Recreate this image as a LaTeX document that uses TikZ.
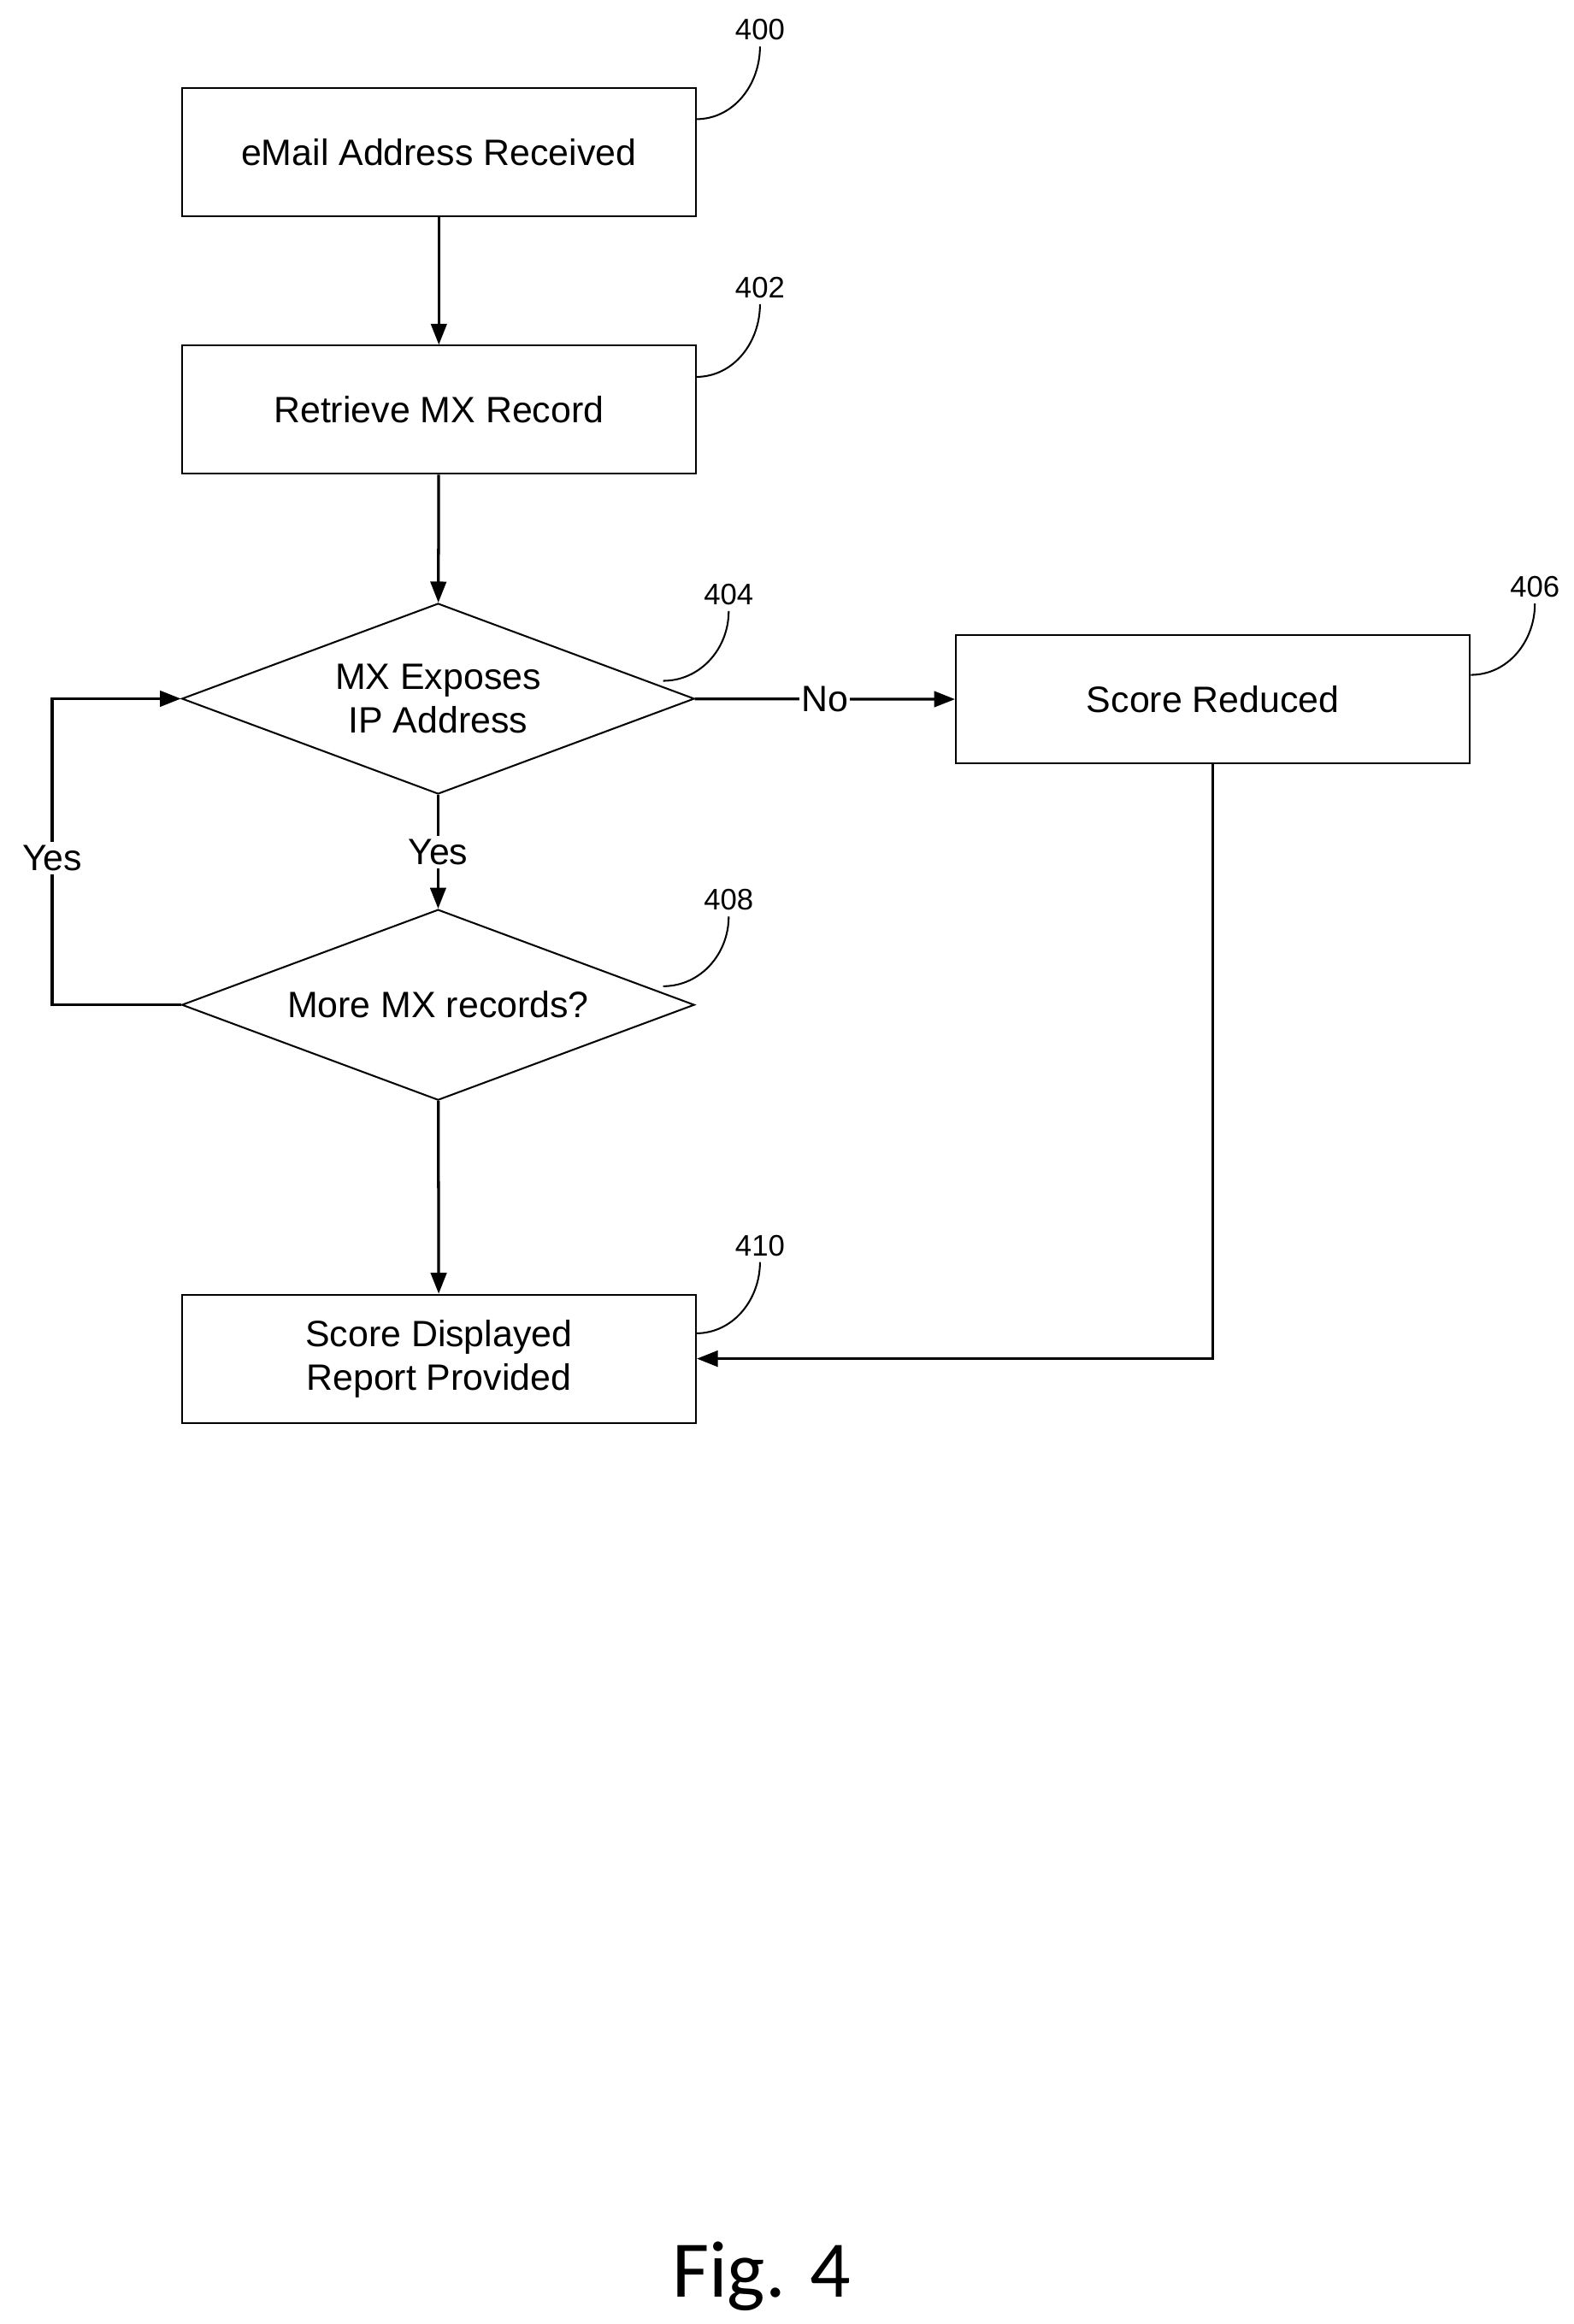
\documentclass[tikz,border=0pt]{standalone}
\usepackage{fontspec}
\setmainfont{Liberation Sans}
\newfontfamily\figfont{Carlito}
\usetikzlibrary{shapes.geometric,arrows.meta}
\tikzset{
 stage/.style={draw, line width=1pt, minimum width=10.35cm, minimum height=2.58cm, font=\fontsize{21}{25}\selectfont, align=center},
 test/.style={draw, diamond, line width=1pt, minimum width=10.32cm, minimum height=3.84cm, inner sep=0pt, aspect=2.69, font=\fontsize{21}{25}\selectfont, align=center},
 ref/.style={font=\fontsize{17}{20}\selectfont},
 flow/.style={line width=1.6pt, -{Triangle[length=12pt,width=9pt]}},
 lead/.style={line width=1pt}
}
\begin{document}
\begin{tikzpicture}[x=0.03cm,y=-0.03cm]
\useasboundingbox (0,0) rectangle (1056,1560);
% boxes
\node[stage] (recv) at (294.5,102) {eMail Address Received};
\node[stage] (mx) at (294.5,275) {Retrieve MX Record};
\node[test] (ip) at (294,469) {MX Exposes\\IP Address};
\node[stage] (red) at (814,469.5) {Score Reduced};
\node[test] (more) at (294,674.5) {More MX records?};
\node[stage] (disp) at (294.5,912) {Score Displayed\\Report Provided};
% reference numbers
\node[ref] (n400) at (510,20) {400};
\node[ref] (n402) at (510,193) {402};
\node[ref] (n404) at (489,399) {404};
\node[ref] (n406) at (1030,394) {406};
\node[ref] (n408) at (489,604) {408};
\node[ref] (n410) at (510,836) {410};
\draw[lead] (467,80) to[out=0,in=-90] (n400.south);
\draw[lead] (467,253) to[out=0,in=-90] (n402.south);
\draw[lead] (445,457) to[out=0,in=-90] (n404.south);
\draw[lead] (987,453) to[out=0,in=-90] (n406.south);
\draw[lead] (445,662) to[out=0,in=-90] (n408.south);
\draw[lead] (467,895) to[out=0,in=-90] (n410.south);
% connectors
\coordinate (loopb) at (35,674.5);
\coordinate (loopt) at (35,469);
\coordinate (redc) at (814,912);
\draw[flow] (recv) -- (mx);
\draw[flow] (mx) -- (ip);
\draw[flow] (ip) -- node[fill=white, font=\fontsize{21}{25}\selectfont, inner sep=1pt]{No} (red);
\draw[flow] (ip) -- node[fill=white, font=\fontsize{21}{25}\selectfont, inner sep=2pt]{Yes} (more);
\draw[flow] (more.west) -- (loopb) -- node[fill=white, font=\fontsize{21}{25}\selectfont, inner sep=2pt, pos=0.48]{Yes} (loopt) -- (ip.west);
\draw[flow] (more) -- (disp);
\draw[flow] (red) -- (redc) -- (disp.east |- redc);
\node[font=\figfont\fontsize{46}{50}\selectfont] (fig) at (511,1528) {Fig. 4};
\end{tikzpicture}
\end{document}
